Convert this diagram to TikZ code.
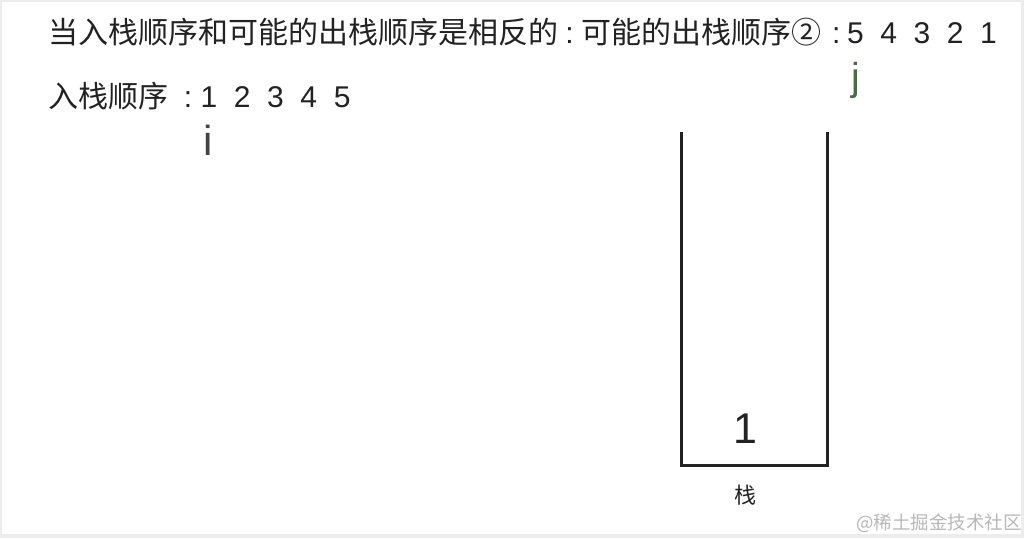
\documentclass[tikz,border=0pt]{standalone}
\usepackage{fontspec}
\setmainfont{Liberation Sans}
\newfontfamily\cjk{Noto Sans CJK SC}
\definecolor{txt}{HTML}{222222}
\definecolor{jgreen}{HTML}{4A6A4A}
\definecolor{frame}{HTML}{ECECEC}
\definecolor{wm}{HTML}{B8B8B8}
\begin{document}
\begin{tikzpicture}[x=1pt,y=-1pt,
  lbl/.style={inner sep=0pt,outer sep=0pt,text=txt,font=\fontsize{30}{30}\selectfont},
  stackline/.style={line width=3pt,draw=txt}]
\useasboundingbox (0,0) rectangle (1024,538);
\fill[frame] (0,0) rectangle (1024,538);
\fill[white] (2,2) rectangle (1021,534);
% line 1
\node[lbl,anchor=base west] (title) at (48,43)
  {{\cjk 当入栈顺序和可能的出栈顺序是相反的}\makebox[23pt]{:}{\cjk 可能的出栈顺序②}};
\node[lbl,anchor=base west] (outseq) at (834,43)
  {\makebox[4.7pt]{:}\makebox[33.3pt]{5}\makebox[33.3pt]{4}\makebox[33.3pt]{3}\makebox[33.3pt]{2}\makebox[33.3pt]{1}};
% line 2
\node[lbl,anchor=base west] (inlbl) at (48,107) {\cjk 入栈顺序};
\node[lbl,anchor=base west] (inseq) at (183.6,107)
  {\makebox[8.7pt]{:}\makebox[33.3pt]{1}\makebox[33.3pt]{2}\makebox[33.3pt]{3}\makebox[33.3pt]{4}\makebox[33.3pt]{5}};
% pointers
\node[inner sep=0pt,anchor=base,text=txt!85!white,font=\fontsize{42}{42}\selectfont] (i) at (208,155) {i};
\node[inner sep=0pt,anchor=base,text=jgreen,font=\fontsize{39}{39}\selectfont] (j) at (856,90) {j};
% stack
\coordinate (tl) at (681,132);
\coordinate (bl) at (681,465);
\coordinate (br) at (827,465);
\coordinate (tr) at (827,132);
\draw[stackline] (tl) -- (bl) -- (br) -- (tr);
\node[inner sep=0pt,anchor=base,text=txt,font=\fontsize{43}{43}\selectfont] (one) at (745,443) {1};
\node[inner sep=0pt,text=txt,font=\cjk\fontsize{22}{22}\selectfont] (stk) at (745,495) {栈};
% watermark
\node[inner sep=0pt,text=wm,font=\cjk\fontsize{18.5}{18.5}\selectfont] (wmk) at (939,523) {@稀土掘金技术社区};
\end{tikzpicture}
\end{document}
